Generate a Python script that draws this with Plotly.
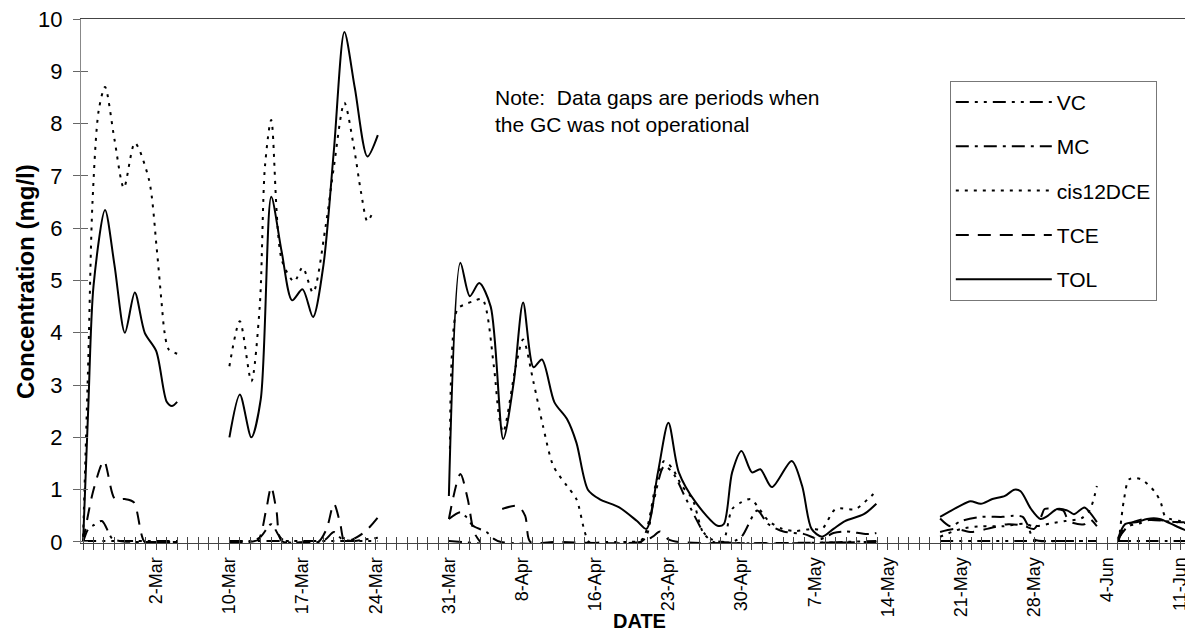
import plotly.graph_objects as go

# x positions are in category-tick units (one tick per sampling day on the original axis)
tick_labels = ["2-Mar", "10-Mar", "17-Mar", "24-Mar", "31-Mar", "8-Apr", "16-Apr",
               "23-Apr", "30-Apr", "7-May", "14-May", "21-May", "28-May", "4-Jun", "11-Jun"]
label_pos = [7, 14, 21, 28, 35, 42, 49, 56, 63, 70, 77, 84, 91, 98, 105]
n_ticks = 106

G = None  # data gap (GC not operational)

tol_x = [0, 0.5, 1, 2.1, 3, 4, 4.95, 5.9, 7, 8, 8.5, 9, G,
         14, 15, 16.1, 17, 18, 19, 20, 21, 22, 23, 24, 25, 26, 27.2, 28.2, G,
         35, 36.1, 37, 37.9, 39, 40.2, 41.2, 42.1, 43.1, 43.9, 45.1, 46.3, 47.2, 48.3, 49.4,
         51.3, 53, 53.9, 55, 56, 57, 58.6, 60.7, 61.3, 62.1, 63, 64, 64.8, 65.9, 67.8, 68.8,
         69.7, 70.7, 71.8, 72.9, 74.7, 75.9, G,
         82, 82.8, 83.9, 84.9, 85.9, 87, 88.2, 89.1, 89.7, 90.7, 91.6, 92.3, 93.2, 94.2, 94.8,
         95.8, 96.3, 97, G,
         99, 99.7, 100.9, 101.8, 103, 104.7, 105.9]
tol_y = [0, 2.6, 4.9, 6.35, 5.3, 4.0, 4.77, 4.0, 3.65, 2.68, 2.6, 2.68, G,
         2.0, 2.82, 2.0, 2.73, 6.6, 5.55, 4.62, 4.83, 4.3, 5.3, 7.5, 9.75, 8.68, 7.37, 7.78, G,
         0.88, 5.34, 4.7, 4.95, 4.5, 1.97, 3.05, 4.58, 3.34, 3.49, 2.67, 2.35, 1.9, 1.0, 0.82,
         0.66, 0.4, 0.25, 1.33, 2.28, 1.33, 0.76, 0.31, 0.34, 1.33, 1.74, 1.33, 1.39, 1.05, 1.55, 1.07,
         0.25, 0.1, 0.25, 0.4, 0.53, 0.73, G,
         0.48, 0.57, 0.69, 0.78, 0.73, 0.82, 0.88, 1.0, 0.97, 0.63, 0.44, 0.5, 0.63, 0.6, 0.53,
         0.66, 0.57, 0.38, G,
         0.05, 0.34, 0.38, 0.44, 0.44, 0.29, 0.19]

cis_x = [0, 0.5, 0.9, 1.5, 2.1, 3, 3.9, 4.95, 6.3, 7.05, 7.5, 7.8, 8.2, 9, G,
         14, 15, 16.1, 16.9, 17.4, 18, 19, 20.2, 21, 22, 23.2, 24, 25, 25.9, 26.6, 27.2, 27.7, G,
         35.1, 35.8, 36.5, 37.3, 38.2, 39.3, 39.8, 40.2, 41.4, 42.1, 43.1, 44, 45, 46.3, 47.2, 48,
         48.4, 50, 52, 53.5, 54.9, 55.6, 56.4, 57.3, 58.3, 59.3, 60.3, 61.2, 62.1, 63, 63.9, 64.7,
         65.6, 66.9, 68.2, 69.7, 70.7, 72, 73.9, 75.1, 75.9, G,
         82, 84, 86, 88, 90, 91, 92.5, 94, 95.5, 96.3, 97, G,
         99.1, 99.6, 100.1, 101.2, 102.5, 103.1, 103.5, 104, 105, 105.9]
cis_y = [0.1, 3.5, 6.5, 8.26, 8.7, 7.7, 6.77, 7.63, 6.93, 5.6, 4.6, 4.0, 3.68, 3.6, G,
         3.36, 4.22, 3.07, 4.5, 7.18, 8.07, 5.4, 4.98, 5.25, 4.77, 6.03, 7.18, 8.4, 7.56, 6.68, 6.13, 6.3, G,
         1.78, 4.45, 4.54, 4.6, 4.64, 3.36, 2.4, 2.1, 3.36, 3.87, 3.05, 2.22, 1.45, 1.07, 0.82, 0.19,
         0, 0, 0, 0.05, 1.2, 1.55, 1.4, 1.07, 0.82, 0.19, 0, 0, 0.63, 0.76, 0.82, 0.63,
         0.4, 0.25, 0.21, 0.25, 0.25, 0.63, 0.63, 0.82, 0.97, G,
         0.1, 0.25, 0.3, 0.3, 0.35, 0.3, 0.35, 0.4, 0.45, 0.6, 1.07, G,
         0, 0.82, 1.2, 1.2, 0.97, 0.76, 0.5, 0.44, 0.4, 0.38]

tce_x = [0, 1, 2, 3.05, 4, 4.85, 5.9, 7, 9, G,
         14, 16, 16.8, 17.5, 18, 18.5, 19, 21.3, 22.5, 23.3, 24, 24.6, 25, 25.8, 27, 28.2, G,
         35, 36.1, 36.8, 37.4, 38, G, 40.1, 41.6, 42.3, 42.8, 45, 53.5, 54.5, 55.2, 56, 57, 75.9, G,
         82, 83.5, 85, 86.5, 88.5, 90, 91, 91.7, 92, 93, 93.8, 94.3, 95.8, 96.3, 97, G,
         99, 99.8, 101.5, 103, 104.5, 105.9]
tce_y = [0, 1.0, 1.55, 0.82, 0.82, 0.76, 0, 0, 0, G,
         0, 0, 0.05, 0.6, 1.05, 0.6, 0.02, 0, 0, 0.25, 0.73, 0.35, 0.02, 0.05, 0.2, 0.47, G,
         0.44, 1.3, 0.82, 0.19, 0, G, 0.63, 0.69, 0.5, 0, 0, 0, 0.1, 0.2, 0.05, 0, 0, G,
         0.19, 0.25, 0.19, 0.25, 0.34, 0.31, 0.25, 0.5, 0.63, 0.63, 0.6, 0.4, 0.34, 0.44, 0.3, G,
         0, 0.31, 0.44, 0.42, 0.38, 0.38]

mc_x = [0, 0.5, 1, 1.8, 2.8, 3.5, 5, 9, G,
        14, 16, 17, 18, 18.8, 19.5, 22.5, 23.2, 24, 24.8, 26, 27, 28.2, G,
        35, 36.1, 36.7, 37.3, 38.6, 39.3, 40, 62, 63, 64.5, 65.5, 67, 69, 70.5, 71.8, 73, 75, 75.9, G,
        82, 83, 84, 86, 88, 89, 89.9, 90.4, 91, 94, 97, G,
        99, 102, 105.9]
mc_y = [0, 0.25, 0.32, 0.4, 0.06, 0.02, 0, 0, G,
        0, 0, 0.1, 0.34, 0.1, 0, 0, 0.05, 0.19, 0.05, 0.02, 0.05, 0.08, G,
        0.44, 0.57, 0.47, 0.31, 0.19, 0.06, 0, 0, 0.1, 0.6, 0.35, 0.2, 0.15, 0.05, 0.17, 0.2, 0.15, 0.17, G,
        0.45, 0.3, 0.4, 0.48, 0.48, 0.5, 0.48, 0.31, 0.05, 0.02, 0.02, G,
        0.02, 0.02, 0.02]

vc_x = [0, 4, 9, G,
        14, 20, 28.2, G,
        35, 53.5, 54.5, 55.6, 56.5, 57.5, 58.5, 59.5, 60.5, 75.9, G,
        82, 90, 97, G,
        99, 100, 101, 102, 103.5, 105.9]
vc_y = [0.02, 0.02, 0.02, G,
        0.02, 0.02, 0.02, G,
        0.02, 0.02, 0.7, 1.45, 1.3, 0.9, 0.5, 0.15, 0.02, 0.02, G,
        0.02, 0.02, 0.02, G,
        0.05, 0.3, 0.35, 0.42, 0.4, 0.35]

series = [
    ("VC", vc_x, vc_y, "13px,6px,3px,6px,3px,6px"),
    ("MC", mc_x, mc_y, "13px,6px,3px,6px"),
    ("cis12DCE", cis_x, cis_y, "3px,6px"),
    ("TCE", tce_x, tce_y, "13px,9px"),
    ("TOL", tol_x, tol_y, "solid"),
]

fig = go.Figure()
for i, (name, xs, ys, dash) in enumerate(series):
    fig.add_trace(go.Scatter(
        x=xs, y=ys, name=name, mode="lines", connectgaps=False,
        line=dict(color="black", width=2, dash=dash, shape="spline", smoothing=0.8),
        legendgroup=name,
    ))

tickvals = list(range(n_ticks))
ticktext = [""] * n_ticks
for p, t in zip(label_pos, tick_labels):
    ticktext[p] = t

font_family = "Liberation Sans, Arial"
x_range = [-0.2, 106.1]

# the page body adds an 8px offset, so the figure is kept 8px smaller than the window
fig.update_layout(
    width=1185, height=626,
    margin=dict(l=73, r=1, t=11, b=91, pad=0),
    paper_bgcolor="white", plot_bgcolor="white",
    showlegend=True,
    legend=dict(
        x=0.782, y=0.882, xanchor="left", yanchor="top",
        bordercolor="#777", borderwidth=1, bgcolor="white",
        font=dict(family=font_family, size=21, color="black"),
        tracegroupgap=14, itemwidth=96, traceorder="grouped",
    ),
    xaxis=dict(
        range=x_range, tickmode="array", tickvals=tickvals, ticktext=ticktext,
        tickangle=-90, ticks="outside", ticklen=6, tickcolor="#444", tickwidth=1,
        tickfont=dict(family=font_family, size=18, color="black"),
        ticklabeloverflow="allow",
        showline=True, linecolor="#444", linewidth=1, mirror=True,
        showgrid=False, zeroline=False, automargin=False,
    ),
    xaxis2=dict(
        range=x_range, overlaying="x", anchor="y", side="bottom",
        tickmode="array", tickvals=tickvals, ticks="inside", ticklen=6,
        tickcolor="#444", tickwidth=1, showticklabels=False, showgrid=False,
        zeroline=False, showline=False, automargin=False,
    ),
    yaxis=dict(
        range=[-0.02, 10], tickmode="linear", tick0=0, dtick=1,
        ticks="outside", ticklen=7, tickcolor="#666", tickwidth=1,
        tickfont=dict(family=font_family, size=22, color="black"),
        ticklabelstandoff=6, ticklabeloverflow="allow",
        showline=True, linecolor="#888", linewidth=1, mirror=True,
        showgrid=False, zeroline=False, automargin=False,
    ),
    yaxis2=dict(
        range=[-0.02, 10], overlaying="y", anchor="x", side="left",
        tickmode="linear", tick0=0, dtick=1, ticks="inside", ticklen=7,
        tickcolor="#666", tickwidth=1, showticklabels=False, showgrid=False,
        zeroline=False, showline=False, automargin=False,
    ),
    annotations=[
        dict(text="Note:  Data gaps are periods when<br>the GC was not operational",
             xref="paper", yref="paper", x=0.371, y=0.876, xanchor="left", yanchor="top",
             align="left", showarrow=False,
             font=dict(family=font_family, size=21, color="black")),
        dict(text="<b>DATE</b>", xref="paper", yref="paper", x=0.503, y=-0.1737,
             xanchor="center", yanchor="bottom", showarrow=False,
             font=dict(family=font_family, size=20, color="black")),
        dict(text="<b>Concentration (mg/l)</b>", xref="paper", yref="paper",
             x=-0.0505, y=0.5, xanchor="center", yanchor="middle", textangle=-90,
             showarrow=False, font=dict(family=font_family, size=24, color="black")),
    ],
)
# invisible trace to activate the overlay axes
fig.add_trace(go.Scatter(x=[0], y=[None], xaxis="x2", yaxis="y2", showlegend=False,
                         hoverinfo="skip", mode="lines"))

fig.write_html("out.html")
